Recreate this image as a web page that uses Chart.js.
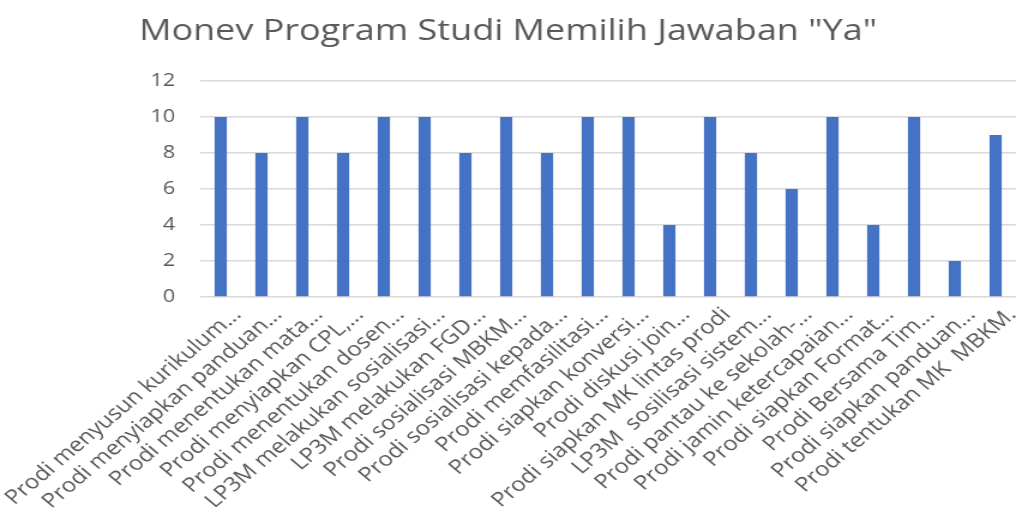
<!DOCTYPE html>
<html>
<head>
<meta charset="utf-8">
<script src="https://cdn.jsdelivr.net/npm/chart.js@4.4.0/dist/chart.umd.min.js"></script>
<style>
html,body{margin:0;padding:0;background:#fff;overflow:hidden;}
#wrap{width:847px;height:518px;position:relative;transform:scaleX(1.19953);transform-origin:0 0;}
</style>
</head>
<body>
<div id="wrap"><canvas id="c"></canvas></div>
<script>
const chartTitle = 'Monev Program Studi Memilih Jawaban "Ya"';
const categories = [
  'Prodi menyusun kurikulum...',
  'Prodi menyiapkan panduan...',
  'Prodi menentukan mata...',
  'Prodi menyiapkan CPL,...',
  'Prodi menentukan dosen...',
  'LP3M melakukan sosialisasi...',
  'LP3M melakukan FGD...',
  'Prodi sosialisasi MBKM...',
  'Prodi sosialisasi kepada...',
  'Prodi memfasilitasi...',
  'Prodi siapkan konversi...',
  'Prodi diskusi join...',
  'Prodi siapkan MK lintas prodi',
  'LP3M  sosilisasi sistem...',
  'Prodi pantau ke sekolah-...',
  'Prodi jamin ketercapaian...',
  'Prodi siapkan Format...',
  'Prodi Bersama Tim...',
  'Prodi siapkan panduan...',
  'Prodi tentukan MK  MBKM.'
];
const values = [10, 8, 10, 8, 10, 10, 8, 10, 8, 10, 10, 4, 10, 8, 6, 10, 4, 10, 2, 9];
const yTicks = [0, 2, 4, 6, 8, 10, 12];

const textColor = '#595959';
new Chart(document.getElementById('c'), {
  type: 'bar',
  data: {
    labels: categories,
    datasets: [{
      data: values,
      backgroundColor: '#4472C4',
      borderWidth: 0,
      categoryPercentage: 1.0,
      barPercentage: 0.3
    }]
  },
  options: {
    responsive: true,
    maintainAspectRatio: false,
    animation: false,
    layout: { padding: { left: 0, right: 0, top: 0, bottom: 0 } },
    plugins: {
      legend: { display: false },
      tooltip: { enabled: false },
      title: {
        display: true,
        text: chartTitle,
        color: textColor,
        font: { family: '"Open Sans", sans-serif', size: 30, weight: 'normal' },
        padding: { top: 13, bottom: 32 }
      }
    },
    scales: {
      x: {
        grid: { display: false },
        border: { display: false },
        ticks: {
          autoSkip: false,
          minRotation: 45,
          maxRotation: 45,
          labelOffset: 14,
          padding: -2,
          color: textColor,
          font: { family: '"Open Sans", sans-serif', size: 20 }
        },
        afterFit(scale) {
          scale.height = 221;
          scale.paddingLeft = 0;
          scale.paddingRight = 0;
        }
      },
      y: {
        min: 0,
        max: 12,
        afterBuildTicks(scale) { scale.ticks = yTicks.map(v => ({ value: v })); },
        grid: { color: '#d9d9d9', lineWidth: 1.5, drawTicks: false },
        border: { display: false },
        ticks: {
          padding: 21,
          color: textColor,
          font: { family: '"Open Sans", sans-serif', size: 18 }
        },
        afterFit(scale) { scale.width = 167; }
      }
    }
  }
});
</script>
</body>
</html>
